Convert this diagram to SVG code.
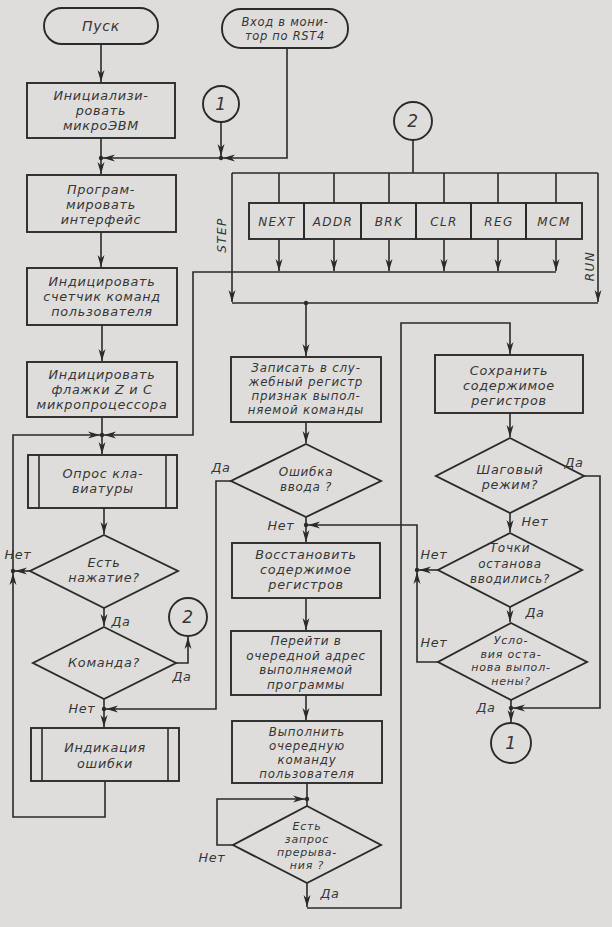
<svg xmlns="http://www.w3.org/2000/svg" width="612" height="927" viewBox="0 0 612 927">
<defs>
<style>
.ln{fill:none;stroke:#2a2a2a;stroke-width:1.6}
.sh{fill:none;stroke:#2a2a2a;stroke-width:1.9}
.t{font-family:"DejaVu Sans","Liberation Sans",sans-serif;font-style:oblique;font-size:12.8px;fill:#363636;text-anchor:middle;letter-spacing:0.7px}
.s{font-size:12px}
.m{font-size:11.8px;letter-spacing:0.8px}
.xs{font-size:11px;letter-spacing:0.8px}
.c{font-size:12px;letter-spacing:1.4px}
.num{font-size:17px}
.dot{fill:#2a2a2a}
</style>
<marker id="ah" viewBox="0 0 12 8" refX="12" refY="4" markerWidth="12" markerHeight="8" markerUnits="userSpaceOnUse" orient="auto">
<path d="M0,0.5 L12,4 L0,7.5 L3.5,4 z" fill="#2a2a2a"/>
</marker>
</defs>
<rect width="612" height="927" fill="#dedddb"/>

<!-- left column -->
<g id="start"><rect class="sh" x="44" y="8" width="114" height="36" rx="18"/><text class="t" x="101" y="31" style="font-size:14px">Пуск</text></g>
<g id="monitor-entry"><rect class="sh" x="222" y="9" width="126" height="39" rx="19"/><text class="t" style="font-size:11.5px"><tspan x="285" y="26">Вход в мони-</tspan><tspan x="285" y="39.5">тор по RST4</tspan></text></g>
<g id="init"><rect class="sh" x="27" y="83" width="148" height="55"/><text class="t"><tspan x="101" y="100">Инициализи-</tspan><tspan x="101" y="115">ровать</tspan><tspan x="101" y="130">микроЭВМ</tspan></text></g>
<g id="conn1-top"><circle class="sh" cx="221" cy="104" r="18"/><text class="t num" x="221" y="110">1</text></g>
<g id="conn2-top"><circle class="sh" cx="413" cy="121" r="19"/><text class="t num" x="413" y="127">2</text></g>
<g id="prog-iface"><rect class="sh" x="27" y="175" width="149" height="57"/><text class="t"><tspan x="101" y="193.5">Програм-</tspan><tspan x="101" y="208.5">мировать</tspan><tspan x="101" y="223.5">интерфейс</tspan></text></g>
<g id="show-pc"><rect class="sh" x="27" y="268" width="150" height="57"/><text class="t"><tspan x="102" y="286">Индицировать</tspan><tspan x="102" y="301">счетчик команд</tspan><tspan x="102" y="316">пользователя</tspan></text></g>
<g id="show-flags"><rect class="sh" x="27" y="362" width="150" height="55"/><text class="t"><tspan x="102" y="379">Индицировать</tspan><tspan x="102" y="394">флажки Z и C</tspan><tspan x="102" y="409">микропроцессора</tspan></text></g>
<g id="poll-kbd"><rect class="sh" x="28" y="455" width="149" height="53"/><path class="ln" d="M39,455V508M166,455V508"/><text class="t"><tspan x="103" y="478">Опрос кла-</tspan><tspan x="103" y="493">виатуры</tspan></text></g>
<g id="key-pressed"><polygon class="sh" points="104,535 178,571 104,608 30,571"/><text class="t"><tspan x="104" y="567">Есть</tspan><tspan x="104" y="582">нажатие?</tspan></text></g>
<g id="is-command"><polygon class="sh" points="104,627 176,663 104,699 33,663"/><text class="t" x="104" y="667">Команда?</text></g>
<g id="conn2-left"><circle class="sh" cx="188" cy="617" r="19"/><text class="t num" x="188" y="623">2</text></g>
<g id="error-ind"><rect class="sh" x="31" y="728" width="148" height="53"/><path class="ln" d="M42,728V781M168,728V781"/><text class="t"><tspan x="105" y="751.5">Индикация</tspan><tspan x="105" y="767.5">ошибки</tspan></text></g>

<!-- command keys -->
<g id="cmd-next"><rect class="sh" x="249" y="203" width="55" height="36"/><text class="t c" x="277" y="226">NEXT</text></g>
<g id="cmd-addr"><rect class="sh" x="304" y="203" width="57" height="36"/><text class="t c" x="333" y="226">ADDR</text></g>
<g id="cmd-brk"><rect class="sh" x="361" y="203" width="55" height="36"/><text class="t c" x="389" y="226">BRK</text></g>
<g id="cmd-clr"><rect class="sh" x="416" y="203" width="55" height="36"/><text class="t c" x="444" y="226">CLR</text></g>
<g id="cmd-reg"><rect class="sh" x="471" y="203" width="55" height="36"/><text class="t c" x="499" y="226">REG</text></g>
<g id="cmd-mcm"><rect class="sh" x="526" y="203" width="56" height="36"/><text class="t c" x="554" y="226">MCM</text></g>

<!-- middle column -->
<g id="write-flag"><rect class="sh" x="231" y="357" width="150" height="65"/><text class="t m"><tspan x="306" y="371.5">Записать в слу-</tspan><tspan x="306" y="385.5">жебный регистр</tspan><tspan x="306" y="399.5">признак выпол-</tspan><tspan x="306" y="413.5">няемой команды</tspan></text></g>
<g id="input-error"><polygon class="sh" points="306,444 381,481 306,517 231,481"/><text class="t s"><tspan x="306" y="476">Ошибка</tspan><tspan x="306" y="490.5">ввода ?</tspan></text></g>
<g id="restore-regs"><rect class="sh" x="232" y="543" width="148" height="55"/><text class="t"><tspan x="306" y="559">Восстановить</tspan><tspan x="306" y="574">содержимое</tspan><tspan x="306" y="589">регистров</tspan></text></g>
<g id="goto-next"><rect class="sh" x="231" y="631" width="150" height="64"/><text class="t s"><tspan x="306" y="645">Перейти в</tspan><tspan x="306" y="659.5">очередной адрес</tspan><tspan x="306" y="674">выполняемой</tspan><tspan x="306" y="688.5">программы</tspan></text></g>
<g id="exec-cmd"><rect class="sh" x="232" y="721" width="150" height="62"/><text class="t m"><tspan x="307" y="736">Выполнить</tspan><tspan x="307" y="750">очередную</tspan><tspan x="307" y="764">команду</tspan><tspan x="307" y="778">пользователя</tspan></text></g>
<g id="irq-request"><polygon class="sh" points="307,806 381,845 307,883 233,845"/><text class="t xs"><tspan x="307" y="830">Есть</tspan><tspan x="307" y="843">запрос</tspan><tspan x="307" y="856">прерыва-</tspan><tspan x="307" y="869">ния ?</tspan></text></g>

<!-- right column -->
<g id="save-regs"><rect class="sh" x="435" y="355" width="148" height="58"/><text class="t"><tspan x="509" y="374.5">Сохранить</tspan><tspan x="509" y="389.5">содержимое</tspan><tspan x="509" y="404.5">регистров</tspan></text></g>
<g id="step-mode"><polygon class="sh" points="510,438 584,476 510,513 436,476"/><text class="t"><tspan x="510" y="474">Шаговый</tspan><tspan x="510" y="489">режим?</tspan></text></g>
<g id="bp-set"><polygon class="sh" points="510,533 582,570 510,607 438,570"/><text class="t s"><tspan x="510" y="552">Точки</tspan><tspan x="510" y="567.5">останова</tspan><tspan x="510" y="582.5">вводились?</tspan></text></g>
<g id="stop-cond"><polygon class="sh" points="511,623 587,662 511,700 438,662"/><text class="t xs"><tspan x="511" y="644">Усло-</tspan><tspan x="511" y="657.5">вия оста-</tspan><tspan x="511" y="671">нова выпол-</tspan><tspan x="511" y="684.5">нены?</tspan></text></g>
<g id="conn1-bottom"><circle class="sh" cx="511" cy="743" r="20"/><text class="t num" x="511" y="749">1</text></g>

<g id="connectors">
<path class="ln" marker-end="url(#ah)" d="M101,44V82"/>
<path class="ln" d="M101,138V158"/>
<path class="ln" marker-end="url(#ah)" d="M101,158V174"/>
<path class="ln" marker-end="url(#ah)" d="M221,122V156"/>
<path class="ln" marker-end="url(#ah)" d="M287,48V158H223"/>
<path class="ln" marker-end="url(#ah)" d="M221,158H103"/>
<path class="ln" marker-end="url(#ah)" d="M101,232V267"/>
<path class="ln" marker-end="url(#ah)" d="M102,325V361"/>
<path class="ln" d="M102,417V435"/>
<path class="ln" marker-end="url(#ah)" d="M102,435V454"/>
<path class="ln" marker-end="url(#ah)" d="M13,571V435H100"/>
<path class="ln" marker-end="url(#ah)" d="M556,272H193V435H104"/>
<path class="ln" marker-end="url(#ah)" d="M104,508V534"/>
<path class="ln" marker-end="url(#ah)" d="M30,571H15"/>
<path class="ln" marker-end="url(#ah)" d="M105,781V817H13V573"/>
<path class="ln" marker-end="url(#ah)" d="M104,608V626"/>
<path class="ln" marker-end="url(#ah)" d="M176,663H188V637"/>
<path class="ln" d="M104,699V709"/>
<path class="ln" marker-end="url(#ah)" d="M104,709V727"/>
<path class="ln" marker-end="url(#ah)" d="M231,481H216V709H106"/>

<path class="ln" d="M413,140V173M232,173H598"/>
<path class="ln" d="M279,173V203M334,173V203M389,173V203M444,173V203M498,173V203M556,173V203"/>
<path class="ln" marker-end="url(#ah)" d="M279,239V271"/>
<path class="ln" marker-end="url(#ah)" d="M334,239V271"/>
<path class="ln" marker-end="url(#ah)" d="M389,239V271"/>
<path class="ln" marker-end="url(#ah)" d="M444,239V271"/>
<path class="ln" marker-end="url(#ah)" d="M498,239V271"/>
<path class="ln" marker-end="url(#ah)" d="M556,239V271"/>
<path class="ln" marker-end="url(#ah)" d="M232,173V302"/>
<path class="ln" marker-end="url(#ah)" d="M598,173V302"/>
<path class="ln" d="M232,303H598"/>
<path class="ln" marker-end="url(#ah)" d="M306,303V356"/>

<path class="ln" marker-end="url(#ah)" d="M306,422V443"/>
<path class="ln" d="M306,517V525"/>
<path class="ln" marker-end="url(#ah)" d="M306,525V542"/>
<path class="ln" marker-end="url(#ah)" d="M417,570V525H308"/>
<path class="ln" marker-end="url(#ah)" d="M306,598V630"/>
<path class="ln" marker-end="url(#ah)" d="M306,695V720"/>
<path class="ln" d="M307,783V806"/>
<path class="ln" marker-end="url(#ah)" d="M233,845H217V799H305"/>
<path class="ln" marker-end="url(#ah)" d="M307,883V907"/>
<path class="ln" marker-end="url(#ah)" d="M307,908H401V323H510V354"/>

<path class="ln" marker-end="url(#ah)" d="M510,413V437"/>
<path class="ln" marker-end="url(#ah)" d="M584,476H600V708H513"/>
<path class="ln" marker-end="url(#ah)" d="M510,513V532"/>
<path class="ln" marker-end="url(#ah)" d="M438,570H419"/>
<path class="ln" marker-end="url(#ah)" d="M510,607V622"/>
<path class="ln" marker-end="url(#ah)" d="M438,662H417V572"/>
<path class="ln" d="M511,700V708"/>
<path class="ln" marker-end="url(#ah)" d="M511,708V722"/>

<circle class="dot" cx="101" cy="158" r="2.2"/>
<circle class="dot" cx="221" cy="158" r="2.2"/>
<circle class="dot" cx="102" cy="435" r="2.2"/>
<circle class="dot" cx="13" cy="571" r="2.2"/>
<circle class="dot" cx="104" cy="709" r="2.2"/>
<circle class="dot" cx="306" cy="303" r="2.2"/>
<circle class="dot" cx="306" cy="525" r="2.2"/>
<circle class="dot" cx="417" cy="570" r="2.2"/>
<circle class="dot" cx="307" cy="799" r="2.2"/>
<circle class="dot" cx="511" cy="708" r="2.2"/>

<text class="t c" x="226" y="235" transform="rotate(-90 226 235)">STEP</text>
<text class="t c" x="594" y="266" transform="rotate(-90 594 266)">RUN</text>
<text class="t" x="18" y="559">Нет</text>
<text class="t" x="121" y="626">Да</text>
<text class="t" x="182" y="681">Да</text>
<text class="t" x="82" y="713">Нет</text>
<text class="t" x="221" y="472">Да</text>
<text class="t" x="281" y="530">Нет</text>
<text class="t" x="212" y="862">Нет</text>
<text class="t" x="330" y="898">Да</text>
<text class="t" x="574" y="467">Да</text>
<text class="t" x="535" y="526">Нет</text>
<text class="t" x="434" y="559">Нет</text>
<text class="t" x="535" y="617">Да</text>
<text class="t" x="434" y="647">Нет</text>
<text class="t" x="486" y="712">Да</text>
</g>
</svg>
